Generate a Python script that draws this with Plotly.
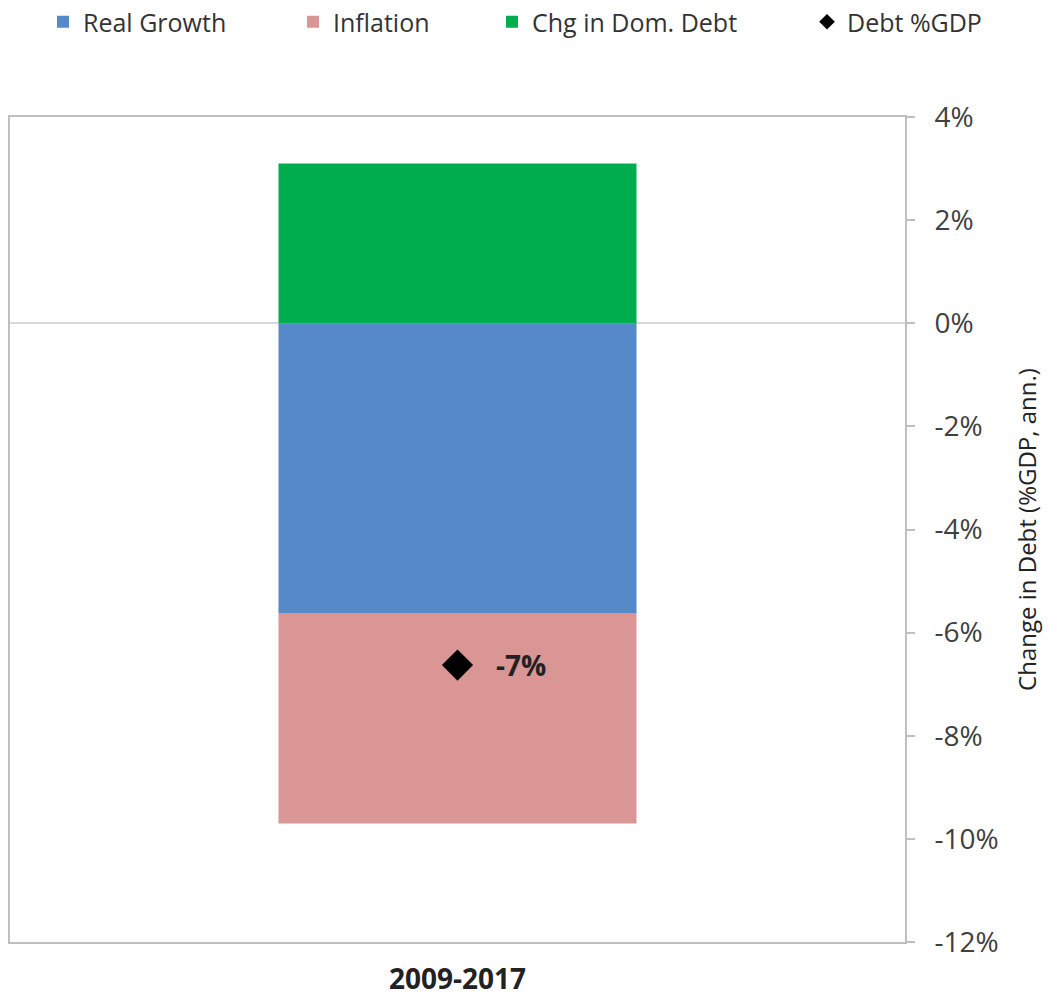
import plotly.graph_objects as go

categories = ["2009-2017"]
real_growth = [-5.62]
inflation = [-4.08]
chg_dom_debt = [3.10]
debt_gdp = [-6.63]

tick_vals = [4, 2, 0, -2, -4, -6, -8, -10, -12]
tick_text = ["4%", "2%", "0%", "-2%", "-4%", "-6%", "-8%", "-10%", "-12%"]

blue = "#5589C8"
pink = "#D99694"
green = "#00AD4E"
grey = "#BFBFBF"
txt = "#333333"
font_fam = "Open Sans, DejaVu Sans, sans-serif"

W, H = 1048, 997

fig = go.Figure()
fig.add_trace(go.Bar(x=categories, y=real_growth, name="Real Growth",
                     marker=dict(color=blue, line=dict(width=0)), width=0.4, legend="legend"))
fig.add_trace(go.Bar(x=categories, y=inflation, name="Inflation",
                     marker=dict(color=pink, line=dict(width=0)), width=0.4, legend="legend2"))
fig.add_trace(go.Bar(x=categories, y=chg_dom_debt, name="Chg in Dom. Debt",
                     marker=dict(color=green, line=dict(width=0)), width=0.4, legend="legend3"))
fig.add_trace(go.Scatter(x=categories, y=debt_gdp, name="Debt %GDP", mode="markers",
                         marker=dict(symbol="diamond", size=24, color="#000000"),
                         legend="legend4"))

for c, v in zip(categories, debt_gdp):
    fig.add_annotation(x=c, y=v, text=f"<b>{v:.0f}%</b>", showarrow=False,
                       xanchor="left", yanchor="middle", xshift=36,
                       font=dict(family=font_fam, size=28, color="#222222"))

leg_common = dict(orientation="h", xref="container", yref="container",
                  xanchor="left", yanchor="middle", y=1 - 22 / H,
                  bgcolor="rgba(0,0,0,0)", borderwidth=0, itemsizing="constant",
                  font=dict(family=font_fam, size=25, color=txt))
fig.update_layout(
    showlegend=True,
    legend=dict(x=(83 - 40) / W, **leg_common),
    legend2=dict(x=(333 - 40) / W, **leg_common),
    legend3=dict(x=(532 - 40) / W, **leg_common),
    legend4=dict(x=(847 - 40) / W, **leg_common),
)

fig.update_layout(
    width=W, height=H,
    barmode="relative",
    paper_bgcolor="white", plot_bgcolor="white",
    margin=dict(l=10, r=143, t=117, b=55),
    font=dict(family=font_fam, color=txt),
    xaxis=dict(type="category", range=[-0.5, 0.5], showgrid=False, automargin=False,
               showline=True, linecolor=grey, linewidth=2, mirror=True,
               ticks="", tickfont=dict(family=font_fam, size=28, color="#222222", weight="bold"),
               ticklabelstandoff=11),
    yaxis=dict(side="right", range=[-12, 4], tickvals=tick_vals, ticktext=tick_text,
               automargin=False,
               showgrid=False, zeroline=True, zerolinecolor="#D9D9D9", zerolinewidth=2,
               showline=True, linecolor=grey, linewidth=2, mirror=True,
               ticks="outside", ticklen=8, tickcolor=grey, tickwidth=2,
               tickfont=dict(family=font_fam, size=28, color="#404040"),
               ticklabelstandoff=14,
               title=dict(text="Change in Debt (%GDP, ann.)",
                          font=dict(family=font_fam, size=24, color="#222222"),
                          standoff=21)),
)

fig.write_html("out.html", config={"displayModeBar": False},
               post_script="document.body.style.margin='0';document.body.style.overflow='hidden';")
